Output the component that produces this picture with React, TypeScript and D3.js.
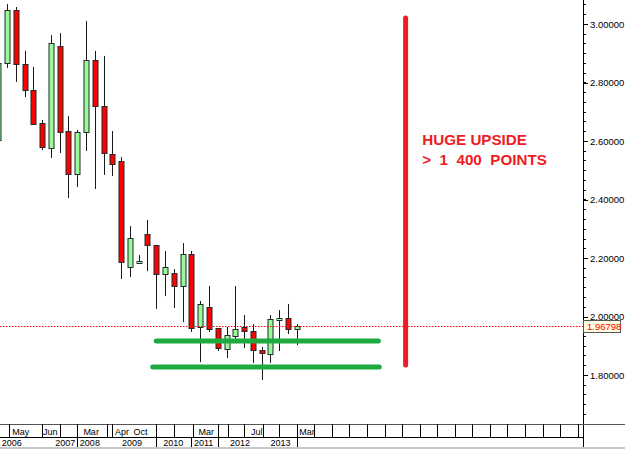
import React from "react";
import * as d3 from "d3";

// candle index (-1 is the partially visible first bar)
const idx = d3.range(-1, 34);
const open = [2.6035, 2.867, 3.048, 2.863, 2.774, 2.661, 2.576, 2.925, 2.634, 2.487, 2.631, 2.877, 2.72, 2.556, 2.532, 2.169, 2.183, 2.282, 2.245, 2.145, 2.149, 2.104, 2.214, 1.964, 2.033, 1.961, 1.889, 1.933, 1.964, 1.95, 1.885, 1.872, 1.988, 1.995, 1.957];
const high = [2.894, 3.068, 3.058, 2.908, 2.853, 2.672, 2.962, 2.969, 2.685, 2.638, 3.01, 2.908, 2.891, 2.634, 2.545, 2.309, 2.21, 2.33, 2.245, 2.224, 2.162, 2.251, 2.224, 2.053, 2.104, 1.961, 1.964, 2.104, 2.005, 1.974, 1.896, 2.005, 2.022, 2.043, 1.974];
const low = [2.586, 2.85, 2.802, 2.75, 2.655, 2.569, 2.542, 2.559, 2.405, 2.443, 2.566, 2.436, 2.484, 2.48, 2.128, 2.135, 2.183, 2.155, 2.026, 2.07, 2.029, 1.981, 1.947, 1.844, 1.947, 1.882, 1.858, 1.923, 1.892, 1.841, 1.783, 1.841, 1.882, 1.94, 1.902];
const close = [2.8667, 3.048, 2.863, 2.774, 2.658, 2.579, 2.935, 2.631, 2.487, 2.631, 2.877, 2.72, 2.559, 2.521, 2.186, 2.268, 2.19, 2.245, 2.145, 2.169, 2.104, 2.214, 1.961, 2.043, 1.957, 1.892, 1.937, 1.957, 1.95, 1.885, 1.875, 1.991, 1.995, 1.957, 1.968];

const lastPrice = 1.96798;
const yTicks = [1.8, 2.0, 2.2, 2.4, 2.6, 2.8, 3.0];

// bottom time axis (positions in bar index units)
const monthDividers = [0.2, 4, 6, 8, 11.4, 12, 17, 19, 21.2, 24, 25.2, 27, 29.2, 31, 33, 35, 37, 39, 41, 43, 45, 47, 49, 51, 53, 55, 57, 59, 61, 63, 65];
const monthLabels = ["May", "Jun", "Mar", "Apr", "Oct", "Mar", "Jul", "Mar"];
const monthLabelAt = [0.6, 4.1, 8.7, 12.3, 14.4, 21.8, 27.8, 33.3];
const yearDividers = [8, 17, 21, 24, 33];
const yearLabels = ["2006", "2007", "2008", "2009", "2010", "2011", "2012", "2013"];
const yearLabelAt = [-0.6, 5.5, 8.3, 13.1, 17.8, 21.3, 25.4, 30];

// annotations
const supportLevels = [1.9163, 1.8274];
const supportFrom = [17, 16.6];
const supportTo = [42.3, 42.4];
const upsideAt = 45.4;
const upsideRange = [3.0205, 1.8342];
const noteLines = ["HUGE UPSIDE", ">  1  400  POINTS"];
const noteAt = 47.3;

export default function App() {
  const W = 625, H = 449;
  const plotBottom = 424;
  const axisX = 583;
  const y = d3.scaleLinear().domain([1.8, 3.0]).range([375, 24]);
  const x = d3.scaleLinear().domain([0, 65]).range([7, 577.7]);
  const minor = d3.range(1.6 + 0.2 / 6, 3.1, 0.2 / 6);
  const font = "'Liberation Sans', Arial, sans-serif";

  return (
    <svg width={W} height={H} style={{ position: "absolute", left: 0, top: 0, background: "#fff" }}>
      <defs>
        <clipPath id="plot">
          <rect x={0} y={0} width={axisX} height={plotBottom} />
        </clipPath>
      </defs>
      <rect x={0} y={0} width={W} height={H} fill="#fff" />

      {/* candles */}
      <g clipPath="url(#plot)">
        {idx.map((d, k) => {
          const cx = Math.round(x(d)) + 0.5;
          const up = close[k] >= open[k];
          const top = Math.round(y(Math.max(open[k], close[k])));
          const bot = Math.round(y(Math.min(open[k], close[k])));
          return (
            <g key={k}>
              <line x1={cx} x2={cx} y1={y(high[k])} y2={y(low[k])} stroke="#1a1a1a" strokeWidth={1} />
              <rect x={cx - 2.5} y={top + 0.5} width={5} height={Math.max(1, bot - top)} fill={up ? "#98fb98" : "#ff0000"} stroke="#1f2a2a" strokeWidth={1} />
            </g>
          );
        })}
        {/* last price line */}
        <line x1={0} x2={axisX} y1={Math.round(y(lastPrice)) + 0.5} y2={Math.round(y(lastPrice)) + 0.5} stroke="#ff0000" strokeWidth={1} strokeDasharray="1.5,1.5" />
      </g>

      {/* support lines */}
      {supportLevels.map((v, k) => (
        <line key={k} x1={x(supportFrom[k])} x2={x(supportTo[k])} y1={y(v)} y2={y(v)} stroke="#1faa3f" strokeWidth={5} strokeLinecap="round" />
      ))}

      {/* upside line */}
      <line x1={x(upsideAt)} x2={x(upsideAt)} y1={y(upsideRange[0])} y2={y(upsideRange[1])} stroke="#ee1c24" strokeWidth={5} strokeLinecap="round" />
      {noteLines.map((t, k) => (
        <text key={k} x={x(noteAt)} y={145 + k * 20} fill="#ee1c24" fontFamily={font} fontWeight="bold" fontSize={15.2} style={{ whiteSpace: "pre" }}>{t}</text>
      ))}

      {/* right axis */}
      <line x1={axisX + 0.5} x2={axisX + 0.5} y1={0} y2={H} stroke="#000" strokeWidth={1} />
      {minor.filter((v) => y(v) > 2 && y(v) < plotBottom).map((v, k) => (
        <line key={k} x1={axisX} x2={axisX + 3} y1={Math.round(y(v)) + 0.5} y2={Math.round(y(v)) + 0.5} stroke="#000" strokeWidth={1} />
      ))}
      {yTicks.map((v) => (
        <g key={v}>
          <line x1={axisX} x2={axisX + 5} y1={Math.round(y(v)) + 0.5} y2={Math.round(y(v)) + 0.5} stroke="#000" />
          <text x={axisX + 7} y={y(v) + 3.5} fontFamily={font} fontSize={9.5} fill="#000">{v.toFixed(5)}</text>
        </g>
      ))}
      {/* price tag */}
      <rect x={axisX + 0.5} y={Math.round(y(lastPrice)) - 5.5} width={37} height={12} fill="#ffffe1" stroke="#555" strokeWidth={1} />
      <text x={axisX + 4} y={y(lastPrice) + 4} fontFamily={font} fontSize={9.5} fill="#ff0000">{lastPrice.toFixed(5)}</text>

      {/* bottom time axis */}
      <line x1={0} x2={W} y1={plotBottom + 0.5} y2={plotBottom + 0.5} stroke="#555" />
      <line x1={0} x2={axisX} y1={437.5} y2={437.5} stroke="#000" />
      <rect x={0} y={447} width={W} height={2} fill="#c8c8c8" />
      {monthDividers.map((d, k) => (
        <line key={k} x1={Math.round(x(d)) + 0.5} x2={Math.round(x(d)) + 0.5} y1={plotBottom} y2={437} stroke="#000" />
      ))}
      {yearDividers.map((d, k) => (
        <line key={k} x1={Math.round(x(d)) + 0.5} x2={Math.round(x(d)) + 0.5} y1={437} y2={447} stroke="#000" />
      ))}
      {monthLabels.map((t, k) => (
        <text key={k} x={x(monthLabelAt[k])} y={434.5} fontFamily={font} fontSize={9} fill="#000">{t}</text>
      ))}
      {yearLabels.map((t, k) => (
        <text key={k} x={x(yearLabelAt[k])} y={446} fontFamily={font} fontSize={9} fill="#000">{t}</text>
      ))}
    </svg>
  );
}
